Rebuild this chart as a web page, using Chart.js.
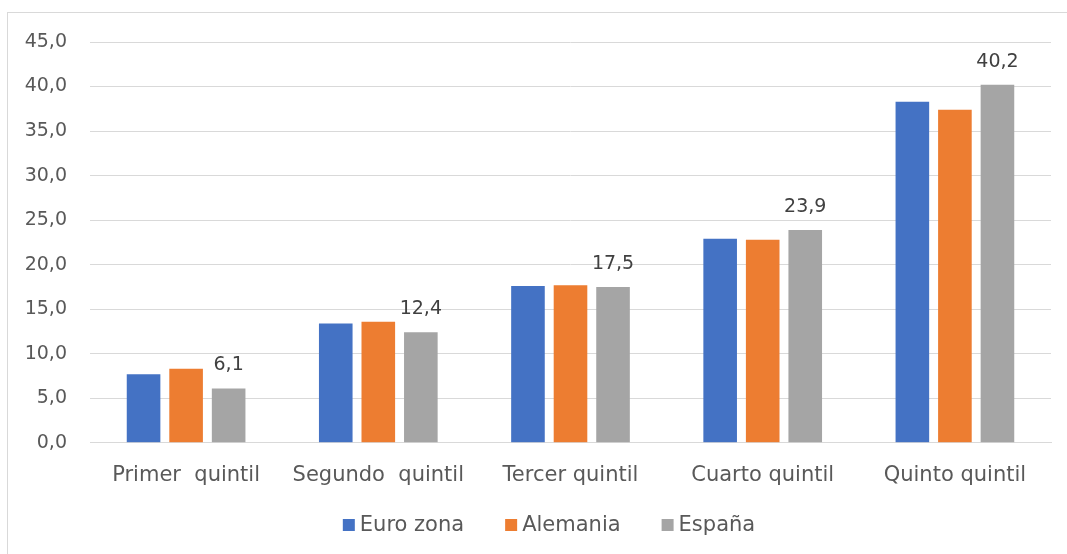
<!DOCTYPE html>
<html>
<head>
<meta charset="utf-8">
<script src="https://cdn.jsdelivr.net/npm/chart.js@4.4.1/dist/chart.umd.min.js"></script>
<style>
  html, body { margin: 0; padding: 0; background: #fff; overflow: hidden; }
  #frame {
    position: absolute; left: 7px; top: 12px;
    width: 1200px; height: 700px;
    border: 1px solid #d9d9d9;
  }
  #canvas_div { position: absolute; left: 0; top: 0; width: 1067px; height: 554px; }
</style>
</head>
<body>
<div id="frame"></div>
<div id="canvas_div"><canvas id="myChart"></canvas></div>
<script>
const quintiles = ["Primer  quintil", "Segundo  quintil", "Tercer quintil", "Cuarto quintil", "Quinto quintil"];
const euroZona = [7.7, 13.4, 17.6, 22.9, 38.3];
const alemania = [8.3, 13.6, 17.7, 22.8, 37.4];
const espana = [6.1, 12.4, 17.5, 23.9, 40.2];
const yTicks = [0, 5, 10, 15, 20, 25, 30, 35, 40, 45];

const fontFamily = "'DejaVu Sans', sans-serif";
const toComma = (v) => v.toFixed(1).replace(".", ",");

// value labels only over the España bars
const spainLabels = {
  id: "spainLabels",
  afterDatasetsDraw(chart) {
    const ctx = chart.ctx;
    const meta = chart.getDatasetMeta(2);
    ctx.save();
    ctx.font = "19px " + fontFamily;
    ctx.fillStyle = "#404040";
    ctx.textAlign = "center";
    ctx.textBaseline = "alphabetic";
    meta.data.forEach((bar, i) => {
      ctx.fillText(toComma(espana[i]), bar.x, bar.y - 18);
    });
    ctx.restore();
  }
};

// legend row under the axis, built from the datasets
const bottomLegend = {
  id: "bottomLegend",
  afterDraw(chart) {
    const ctx = chart.ctx;
    const sets = chart.data.datasets;
    const box = 12, textGap = 5, itemGap = 41, y = 525;
    ctx.save();
    ctx.font = "21px " + fontFamily;
    ctx.textBaseline = "middle";
    ctx.textAlign = "left";
    const widths = sets.map((ds) => box + textGap + ctx.measureText(ds.label).width);
    const total = widths.reduce((a, b) => a + b, 0) + itemGap * (sets.length - 1);
    let x = 549 - total / 2;
    sets.forEach((ds, i) => {
      ctx.fillStyle = ds.backgroundColor;
      ctx.fillRect(x, y - box / 2, box, box);
      ctx.fillStyle = "#595959";
      ctx.fillText(ds.label, x + box + textGap, y + 1);
      x += widths[i] + itemGap;
    });
    ctx.restore();
  }
};

const informations = {
  labels: quintiles,
  datasets: [
    { label: "Euro zona", data: euroZona, backgroundColor: "#4472C4" },
    { label: "Alemania", data: alemania, backgroundColor: "#ED7D31" },
    { label: "España", data: espana, backgroundColor: "#A5A5A5" }
  ]
};

const config = {
  type: "bar",
  data: informations,
  options: {
    responsive: false,
    animation: false,
    layout: { padding: { left: 0, right: 16, top: 42, bottom: 46 } },
    datasets: { bar: { categoryPercentage: 0.664, barPercentage: 0.79 } },
    plugins: {
      tooltip: { enabled: false },
      legend: { display: false }
    },
    scales: {
      x: {
        grid: { display: false, drawTicks: false },
        border: { color: "#d9d9d9", width: 1 },
        ticks: {
          font: { family: fontFamily, size: 21 },
          color: "#595959",
          padding: 20,
          maxRotation: 0,
          autoSkip: false
        }
      },
      y: {
        min: 0,
        max: 45,
        afterFit: (scale) => { scale.width = 90; },
        afterBuildTicks: (scale) => { scale.ticks = yTicks.map((v) => ({ value: v })); },
        grid: { color: "#d9d9d9", lineWidth: 1, drawTicks: false },
        border: { display: false },
        ticks: {
          font: { family: fontFamily, size: 19 },
          color: "#595959",
          padding: 23,
          callback: (v) => toComma(v)
        }
      }
    }
  },
  plugins: [spainLabels, bottomLegend]
};

window.onload = () => {
  const canvas = document.getElementById("myChart");
  canvas.width = 1067;
  canvas.height = 554;
  new Chart(canvas, config);
};
</script>
</body>
</html>
